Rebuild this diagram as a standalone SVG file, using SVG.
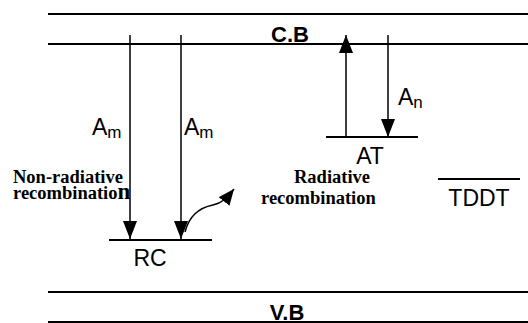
<svg xmlns="http://www.w3.org/2000/svg" width="528" height="323" viewBox="0 0 528 323">
<defs>
<marker id="ah" viewBox="0 0 18 14" refX="18" refY="7" markerWidth="18" markerHeight="14" markerUnits="userSpaceOnUse" orient="auto">
<path d="M0,0 L18,7 L0,14 Z" fill="#000"/>
</marker>
<marker id="ah2" viewBox="0 0 16 14" refX="16" refY="7" markerWidth="16" markerHeight="14" markerUnits="userSpaceOnUse" orient="auto">
<path d="M0,0 L16,7 L0,14 Z" fill="#000"/>
</marker>
</defs>
<style>
.ln{stroke:#000;stroke-width:2;fill:none}
.ar{stroke:#000;stroke-width:1.5;fill:none}
.band{font-family:"Liberation Sans",Arial,sans-serif;font-weight:bold;font-size:22px;text-anchor:middle}
.lvl{font-family:"Liberation Sans",Arial,sans-serif;font-size:23px;text-anchor:middle}
.a{font-family:"Liberation Sans",Arial,sans-serif;font-size:23px}
.sub{font-size:17px}
.rec{font-family:"Liberation Serif","Times New Roman",serif;font-weight:bold;font-size:18.5px}
</style>
<rect width="528" height="323" fill="#fff"/>
<g id="cb">
<line class="ln" x1="48" y1="14" x2="528" y2="14"/>
<line class="ln" x1="48" y1="44" x2="528" y2="44"/>
<text class="band" x="290" y="42">C.B</text>
</g>
<g id="vb">
<line class="ln" x1="48" y1="292" x2="528" y2="292"/>
<line class="ln" x1="48" y1="322" x2="528" y2="322"/>
<text class="band" x="287" y="320">V.B</text>
</g>
<g id="rc">
<line class="ln" x1="109" y1="240" x2="212" y2="240"/>
<text class="lvl" x="150" y="266">RC</text>
</g>
<g id="at">
<line class="ln" x1="326" y1="137" x2="418" y2="137"/>
<text class="lvl" x="370" y="164">AT</text>
</g>
<g id="tddt">
<line class="ln" x1="438" y1="179" x2="520" y2="179"/>
<text class="lvl" x="479" y="206">TDDT</text>
</g>
<g id="labels">
<text class="a" x="92" y="135">A<tspan class="sub" dy="3">m</tspan></text>
<text class="a" x="184" y="135">A<tspan class="sub" dy="3">m</tspan></text>
<text class="a" x="398" y="105">A<tspan class="sub" dy="3">n</tspan></text>
<text class="rec" x="13" y="183">Non-radiative</text>
<text class="rec" x="13" y="199">recombinatio<tspan style="font-size:23px">n</tspan></text>
<text class="rec" x="294" y="183">Radiative</text>
<text class="rec" x="261" y="204">recombination</text>
</g>
<g id="connectors">
<line class="ar" x1="130" y1="35" x2="130" y2="239" marker-end="url(#ah)"/>
<line class="ar" x1="181" y1="35" x2="181" y2="239" marker-end="url(#ah)"/>
<line class="ar" x1="346" y1="137" x2="346" y2="35" marker-end="url(#ah)"/>
<line class="ar" x1="388" y1="35" x2="388" y2="137" marker-end="url(#ah)"/>
<path class="ar" d="M185,232 C190,212 203,207 213,205 C222,203 226,199 234,189" marker-end="url(#ah2)"/>
</g>
</svg>
